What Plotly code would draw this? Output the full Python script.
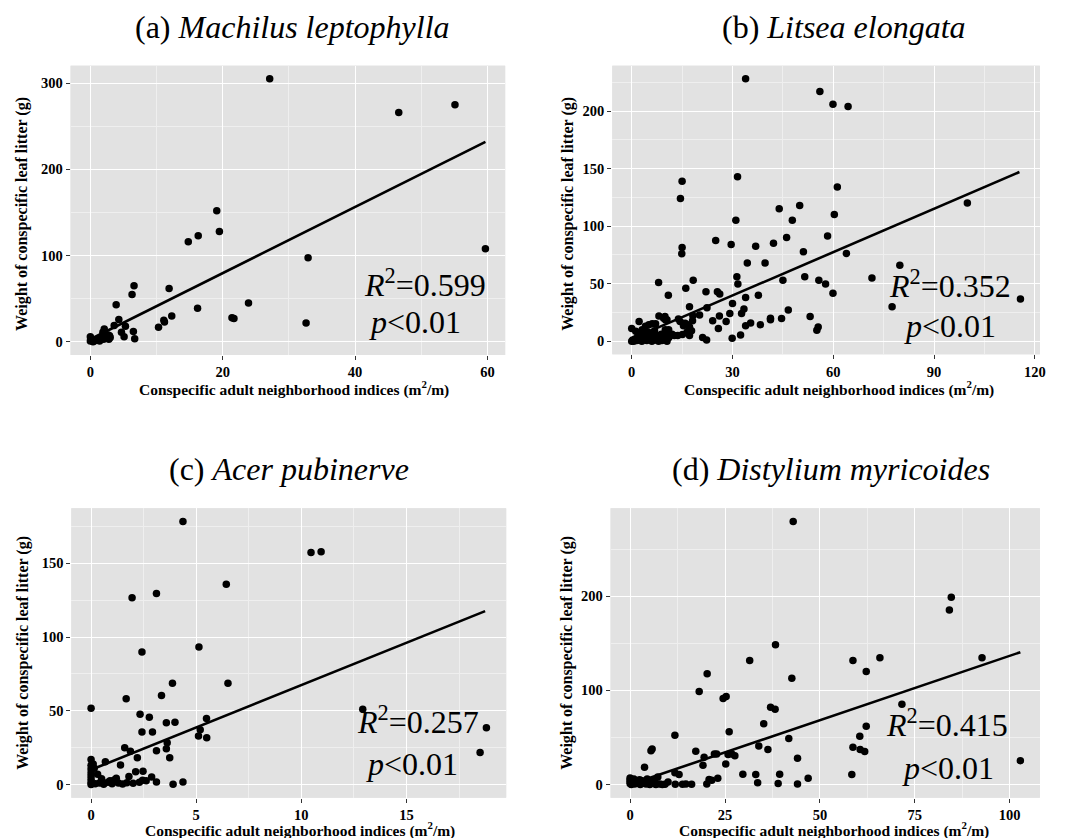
import plotly.graph_objects as go

W, H = 1078, 838

# ---------------- data ----------------
A_x = [27.1, 46.6, 55.1, 59.7, 19.1, 19.5, 16.3, 14.8, 32.9, 32.6, 23.9, 21.4, 21.7, 16.2, 11.9, 12.3,
       11.1, 11.2, 10.3, 6.6, 6.3, 3.9, 4.3, 3.6, 5.3, 4.7, 5.1, 6.5, 6.7, 2.1, 1.9, 2.7, 2.8, 1.4,
       0.0, 0.0, 0.4, 0.9, 1.7, 2.4, 0.2, 0.6, 1.2, 2.0, 3.0, 0.1, 2.2, 2.9]
A_y = [305, 266, 275, 108, 152, 128, 123, 116, 97.5, 22, 45, 28, 27, 39, 62, 30,
       25, 23, 17, 65, 55, 43, 26, 19, 18, 11, 6, 12, 3.5, 15, 11, 8, 3, 1,
       6, 1, 0, 2, 5, 6, 3, 1, 2, 3, 5, 3, 9, 7]
A_fit_x = [0, 59.7]
A_fit_y = [3, 232]

B_x = [33.9, 56.0, 59.9, 64.4, 15.0, 31.5, 61.2, 14.5, 99.9, 50.0, 43.9, 60.3, 31.0, 47.8, 58.3, 46.1,
       25.0, 29.6, 42.2, 36.9, 15.0, 14.9, 51.1, 63.9, 34.4, 39.7, 79.8, 71.5, 51.5, 31.3, 8.0, 18.3,
       45.0, 55.7, 57.7, 31.6, 16.1, 25.5, 22.1, 26.2, 37.7, 33.9, 10.9, 59.9, 115.7, 77.5, 30.0, 17.2,
       22.4, 33.4, 32.7, 29.2, 18.2, 20.2, 26.1, 41.3, 41.3, 44.6, 53.1, 46.6, 24.1, 28.1, 35.4, 38.3,
       33.9, 25.8, 55.5, 55.1, 32.4, 29.9, 21.1, 22.3,
       8.1, 9.9, 10.1, 2.2, 0.0, 13.9, 15.9, 16.6, 17.2, 18.1, 15.4, 14.4, 1.2, 3.1, 4.1, 5.1,
       6.1, 7.1, 9.5, 10.5, 10.0, 11.0, 12.7, 13.7, 15.1, 17.2, 16.5, 17.8,
       0.0, 0.3, 0.6, 1.0, 1.5, 2.0, 2.5, 3.0, 3.5, 4.0, 4.5, 5.0, 5.5, 6.0, 6.5, 7.0, 7.5, 8.0,
       8.5, 9.0, 9.5, 10.0, 10.5, 11.0, 11.5, 12.0, 2.8, 4.8, 6.8, 8.8, 1.8, 3.8, 5.8, 7.8, 9.8]
B_y = [228, 217, 206, 204, 139, 143, 134, 124, 120, 118, 115, 110, 105, 105, 91.5, 90,
       87.5, 84, 85, 82.6, 81.5, 76, 77.7, 76.3, 68, 68, 66, 55, 56, 56, 51, 53,
       53, 53, 49.6, 49.6, 46, 43, 43, 41, 40, 38, 40, 41.6, 36.7, 30, 32.7, 30,
       29, 28, 24, 24, 22, 22.7, 21.8, 20, 18.6, 19.8, 21.5, 27, 17.8, 17, 15.8, 14.3,
       13.5, 11, 12.3, 9.5, 5.4, 2.6, 3.2, 1.1,
       21.8, 21.5, 18.4, 17.2, 11, 19.2, 15.5, 14.3, 12.3, 17.8, 13.5, 17.2, 8.6, 10, 13, 14.3,
       15.2, 15.2, 20, 18.6, 10, 10, 4.9, 4.9, 5.7, 4.9, 8, 9,
       0, 1, 0, 2, 0.5, 1, 3, 0, 1.5, 4, 0.5, 2, 6, 0, 3, 1, 5, 0,
       2, 0.5, 4, 1, 0, 3, 5, 6, 6, 8, 9, 6, 4, 2.5, 1, 2.5, 7]
B_fit_x = [0, 115.4]
B_fit_y = [2, 147]

C_x = [4.37, 10.46, 10.94, 6.43, 3.11, 1.95, 5.13, 2.42, 6.51, 3.87, 3.35, 1.67, 0.0, 12.92, 18.8, 18.5,
       2.33, 2.77, 5.49, 3.58, 3.99, 2.42, 2.92, 5.19, 5.11, 5.5, 3.62, 3.58, 1.6, 1.87, 3.11, 3.74,
       1.4, 2.2, 2.12, 2.47, 0.68, 0.0, 0.0, 0.0, 0.0, 0.0, 0.0, 0.0, 0.0, 0.31, 1.8, 2.88,
       2.45, 2.62, 3.11, 3.9, 4.37, 0.2, 0.4, 0.6, 0.8, 1.0, 1.1, 1.3, 1.5, 1.7, 2.0, 2.3,
       0.5, 0.9, 1.2, 0.15, 0.1]
C_y = [178.4, 157.4, 157.9, 135.8, 129.5, 126.6, 93.2, 89.9, 68.7, 68.7, 60.4, 58.1, 51.8, 51.1, 38.5, 21.8,
       47.7, 45.7, 44.8, 41.9, 42.3, 35.6, 35.6, 37.2, 32.9, 31.8, 28.4, 24.3, 25, 22.5, 23, 18.2,
       13.3, 18.2, 8.6, 9, 15.5, 17, 13, 10.5, 8, 5.8, 3.6, 1.4, 0, 7, 5.4, 5.2,
       2.9, 2.5, 1.8, 0.2, 1.8, 0.5, 1, 0.2, 1.5, 0.5, 3, 1, 0.3, 1.2, 0.8, 1.5,
       4, 2.5, 4.2, 11, 14]
C_fit_x = [0, 18.74]
C_fit_y = [10, 117.6]

D_x = [42.96, 84.6, 84.1, 38.3, 92.7, 65.8, 31.5, 58.7, 62.2, 20.3, 42.6, 18.2, 25.3, 24.5, 37.0, 38.2,
       71.6, 35.2, 62.2, 26.1, 11.8, 60.5, 41.8, 58.7, 33.9, 5.8, 5.5, 60.6, 61.8, 36.3, 17.3, 19.5,
       22.2, 22.8, 25.8, 26.8, 27.6, 19.2, 25.2, 44.1, 102.8, 3.8, 11.8, 12.9, 29.7, 33.1, 39.4, 58.4,
       23.1, 20.8, 21.5, 20.2, 11.9, 13.8, 14.7, 16.2, 33.6, 39.0, 44.1, 46.9, 10.0,
       0.0, 0.0, 0.0, 0.0, 0.3, 0.8, 1.2, 1.7, 2.2, 2.7, 3.2, 3.7, 4.2, 4.7, 5.2, 5.7,
       6.2, 6.8, 7.3, 7.8, 8.5, 6.5, 2.5, 1.0, 4.5, 9.2]
D_y = [279.5, 199, 185.5, 148.4, 134.6, 134.6, 131.8, 131.8, 120, 117.7, 113, 98.9, 93.6, 91.5, 82, 79.9,
       85.2, 64.7, 61.8, 56.2, 52.3, 51.2, 48.8, 39.6, 41, 37.8, 36, 37.1, 35, 37.1, 35.3, 29,
       32.5, 32.5, 31.8, 32.5, 30.7, 20.5, 21.9, 27.9, 25.4, 18.4, 12.4, 10.6, 11, 10.6, 11, 10.6,
       6.7, 5.3, 4.6, 0.7, 0.4, 0.3, 0.5, 0.2, 1.8, 1, 0.7, 6.7, 2.8,
       7, 5, 3, 1, 0, 2, 0.5, 3, 1, 0, 4, 1.5, 0.5, 2, 0, 3,
       1, 0, 8, 0.5, 0, 5, 5, 6, 6, 0.3]
D_fit_x = [0, 102.8]
D_fit_y = [0, 140.6]

titles = ["(a) <i>Machilus leptophylla</i>", "(b) <i>Litsea elongata</i>",
          "(c) <i>Acer pubinerve</i>", "(d) <i>Distylium myricoides</i>"]
r2_labels = ["0.599", "0.352", "0.257", "0.415"]
x_dticks = [20, 30, 5, 25]
y_dticks = [100, 50, 50, 100]
x_title = "Conspecific adult neighborhood indices (m<sup>2</sup>/m)"
y_title = "Weight of conspecific leaf litter (g)"

# label positions in data units (R2 / p)
r2_pos = [(50.5, 68.7), (94.7, 49.3), (15.57, 44.1), (83.4, 65.4)]
p_pos = [(49.0, 22.8), (94.8, 13.5), (15.28, 13.7), (83.8, 17.7)]

# ---------------- layout geometry (pixels) ----------------
panels_px = [  # left, right, top, bottom
    (71, 508, 65.7, 355),
    (615.7, 1045.7, 65.7, 354.3),
    (71.7, 509, 508.3, 797.7),
    (614, 1045.7, 508.3, 797.7),
]
title_px = [(294, 27), (849, 27), (291, 469), (836, 469)]
xtitle_px = [(296, 388), (844, 388), (302, 829), (839, 829)]
ytitle_px = [(22, 214), (571, 214), (23, 653), (570, 653)]

SERIF = "Liberation Serif"
BG = "#E2E2E2"

fig = go.Figure()
data_sets = [(A_x, A_y, A_fit_x, A_fit_y), (B_x, B_y, B_fit_x, B_fit_y),
             (C_x, C_y, C_fit_x, C_fit_y), (D_x, D_y, D_fit_x, D_fit_y)]

annotations = []
for i, (xs, ys, fx, fy) in enumerate(data_sets):
    n = "" if i == 0 else str(i + 1)
    xa, ya = "x" + n, "y" + n
    fig.add_trace(go.Scatter(x=xs, y=ys, mode="markers", xaxis=xa, yaxis=ya,
                             marker=dict(color="black", size=7.5), showlegend=False))
    fig.add_trace(go.Scatter(x=fx, y=fy, mode="lines", xaxis=xa, yaxis=ya,
                             line=dict(color="black", width=2.6), showlegend=False))
    l, r, t, b = panels_px[i]
    xmin, xmax = min(xs), max(xs)
    ymin, ymax = min(ys), max(ys)
    ex, ey = 0.05 * (xmax - xmin), 0.05 * (ymax - ymin)
    common = dict(showgrid=True, gridcolor="white", gridwidth=1.2, zeroline=False,
                  ticks="outside", ticklen=4, tickwidth=1, tickcolor="#333333",
                  showline=False, tickmode="linear", tick0=0,
                  tickfont=dict(family=SERIF, size=14.5, color="black", weight="bold"))
    fig.layout["xaxis" + n] = dict(common, domain=[l / W, r / W], range=[xmin - ex, xmax + ex],
                                   dtick=x_dticks[i], anchor=ya,
                                   minor=dict(dtick=x_dticks[i] / 2, showgrid=True,
                                              gridcolor="#EFEFEF", gridwidth=0.6))
    fig.layout["yaxis" + n] = dict(common, domain=[1 - b / H, 1 - t / H], range=[ymin - ey, ymax + ey],
                                   dtick=y_dticks[i], anchor=xa,
                                   minor=dict(dtick=y_dticks[i] / 2, showgrid=True,
                                              gridcolor="#EFEFEF", gridwidth=0.6))
    fig.add_shape(type="rect", xref="paper", yref="paper", x0=l / W, x1=r / W,
                  y0=1 - b / H, y1=1 - t / H, fillcolor=BG, line=dict(width=0), layer="below")
    pa = dict(xref="paper", yref="paper", showarrow=False, xanchor="center", yanchor="middle")
    annotations.append(dict(pa, text=titles[i], x=title_px[i][0] / W, y=1 - title_px[i][1] / H,
                            font=dict(family=SERIF, size=32, color="black")))
    annotations.append(dict(pa, text=x_title, x=xtitle_px[i][0] / W, y=1 - xtitle_px[i][1] / H,
                            font=dict(family=SERIF, size=15.5, color="black", weight="bold")))
    annotations.append(dict(pa, text=y_title, x=ytitle_px[i][0] / W, y=1 - ytitle_px[i][1] / H,
                            textangle=-90,
                            font=dict(family=SERIF, size=16, color="black", weight="bold")))
    annotations.append(dict(text="<i>R</i><sup>2</sup>=" + r2_labels[i], x=r2_pos[i][0], y=r2_pos[i][1],
                            xref=xa, yref=ya, showarrow=False, xanchor="center", yanchor="middle",
                            font=dict(family=SERIF, size=32, color="black")))
    annotations.append(dict(text="<i>p</i>&lt;0.01", x=p_pos[i][0], y=p_pos[i][1],
                            xref=xa, yref=ya, showarrow=False, xanchor="center", yanchor="middle",
                            font=dict(family=SERIF, size=32, color="black")))

fig.update_layout(width=W, height=H, margin=dict(l=0, r=0, t=0, b=0),
                  paper_bgcolor="white", plot_bgcolor=BG, annotations=annotations,
                  showlegend=False)
fig.write_html("out.html", config={"displayModeBar": False},
               post_script="document.body.style.margin='0';document.body.style.overflow='hidden';")
